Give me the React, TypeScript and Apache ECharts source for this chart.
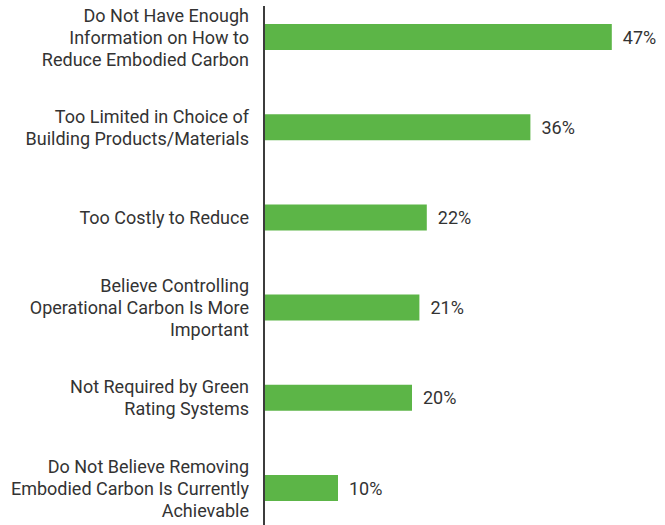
import React, { useEffect, useRef } from "react";
import * as echarts from "echarts";

const categories: string[] = [
  "Do Not Have Enough\nInformation on How to\nReduce Embodied Carbon",
  "Too Limited in Choice of\nBuilding Products/Materials",
  "Too Costly to Reduce",
  "Believe Controlling\nOperational Carbon Is More\nImportant",
  "Not Required by Green\nRating Systems",
  "Do Not Believe Removing\nEmbodied Carbon Is Currently\nAchievable",
];
const values: number[] = [47, 36, 22, 21, 20, 10];

export default function App() {
  const ref = useRef<HTMLDivElement>(null);
  useEffect(() => {
    document.body.style.margin = "0";
    if (!ref.current) return;
    const chart = echarts.init(ref.current, null, { renderer: "svg" });
    chart.setOption({
      animation: false,
      backgroundColor: "#ffffff",
      grid: { left: 264, top: 37, width: 370, height: 451, containLabel: false },
      xAxis: {
        type: "value",
        min: 0,
        max: 50,
        show: false,
      },
      yAxis: {
        type: "category",
        data: categories,
        inverse: true,
        boundaryGap: false,
        axisLine: { show: false },
        axisTick: { show: false },
        splitLine: { show: false },
        axisLabel: {
          margin: 15,
          color: "#333333",
          fontFamily: "Roboto",
          fontSize: 18,
          lineHeight: 22,
          align: "right",
        },
      },
      graphic: [
        {
          type: "line",
          shape: { x1: 264, y1: 6, x2: 264, y2: 525 },
          style: { stroke: "#3c3c3c", lineWidth: 2 },
          z: 10,
        },
      ],
      series: [
        {
          type: "bar",
          data: values,
          barWidth: 26,
          itemStyle: { color: "#5cb547" },
          label: {
            show: true,
            position: "right",
            distance: 11,
            formatter: "{c}%",
            color: "#333333",
            fontFamily: "Roboto",
            fontSize: 18,
          },
        },
      ],
    });
    return () => chart.dispose();
  }, []);
  return <div ref={ref} style={{ width: 665, height: 525 }} />;
}
